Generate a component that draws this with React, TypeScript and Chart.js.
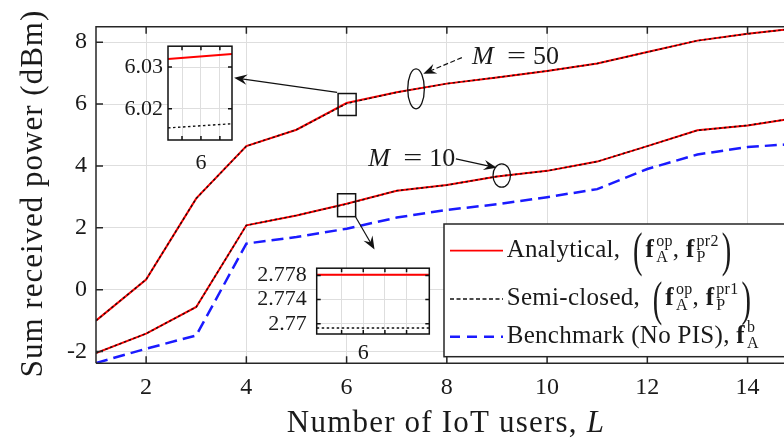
import { useEffect, useRef } from 'react';
import { Chart, registerables } from 'chart.js';

Chart.register(...registerables);

const FONT = '"Liberation Serif", "Times New Roman", Times, serif';

// ---------------- data ----------------
const USERS_L = [1, 2, 3, 4, 5, 6, 7, 8, 9, 10, 11, 12, 13, 14, 15];
const ANALYTICAL_M50 = [-1.0, 0.33, 2.95, 4.64, 5.17, 6.032, 6.38, 6.66, 6.86, 7.07, 7.31, 7.68, 8.05, 8.27, 8.45];
const SEMI_M50 = [-1.0, 0.33, 2.95, 4.64, 5.17, 6.015, 6.38, 6.66, 6.86, 7.07, 7.31, 7.68, 8.05, 8.27, 8.45];
const ANALYTICAL_M10 = [-2.05, -1.42, -0.56, 2.08, 2.4, 2.778, 3.2, 3.38, 3.66, 3.84, 4.14, 4.64, 5.15, 5.31, 5.56];
const SEMI_M10 = [-2.05, -1.42, -0.56, 2.08, 2.4, 2.769, 3.2, 3.38, 3.66, 3.84, 4.14, 4.64, 5.15, 5.31, 5.56];
const BENCHMARK = [-2.37, -1.91, -1.48, 1.49, 1.7, 1.97, 2.33, 2.58, 2.76, 2.99, 3.25, 3.9, 4.37, 4.61, 4.72];

const X_TICKS = [2, 4, 6, 8, 10, 12, 14];
const Y_TICKS = [-2, 0, 2, 4, 6, 8];
const X_RANGE = [1, 15];
const Y_RANGE = [-2.38, 8.5];

const INSET1_X = [5.9913, 6.0082];
const INSET1_ANALYTICAL = [6.0319, 6.0331];
const INSET1_SEMI = [6.0154, 6.0164];
const INSET1_X_TICKS = [5.995, 6, 6.005];
const INSET1_Y_TICKS = [6.02, 6.03];
const INSET1_X_RANGE = [5.9913, 6.0082];
const INSET1_Y_RANGE = [6.0125, 6.035];

const INSET2_X = [5.9785, 6.0305];
const INSET2_ANALYTICAL = [2.7781, 2.7781];
const INSET2_SEMI = [2.7693, 2.7693];
const INSET2_X_TICKS = [5.99, 6, 6.01, 6.02];
const INSET2_Y_TICKS = [2.77, 2.774, 2.778];
const INSET2_X_RANGE = [5.9785, 6.0305];
const INSET2_Y_RANGE = [2.7683, 2.7792];

const X_TITLE = 'Number of IoT users, ';
const X_TITLE_VAR = 'L';
const Y_TITLE = 'Sum received power (dBm)';
const LEGEND_LABELS = ['Analytical, ', 'Semi-closed, ', 'Benchmark (No PIS), '];

// annotations (data coordinates)
const ZOOM_BOXES = [
  { x: [5.83, 6.19], y: [5.63, 6.34] },
  { x: [5.82, 6.18], y: [2.36, 3.1] },
];
const ARROWS = [
  { from: [5.81, 6.38], to: [3.755, 6.85], dashed: false },
  { from: [6.18, 2.35], to: [6.557, 1.3], dashed: false },
  { from: [8.3, 7.5], to: [7.53, 6.98], dashed: true },
  { from: [8.18, 4.23], to: [8.995, 3.94], dashed: false },
];
const ELLIPSES = [
  { c: [7.385, 6.49], rx: 8.3, ry: 20 },
  { c: [9.095, 3.69], rx: 8.7, ry: 11.7 },
];
const M_LABELS = [
  { at: [8.5, 7.31], value: '50' },
  { at: [6.43, 4.01], value: '10' },
];

// ---------------- styles ----------------
const RED = '#ff0000';
const BLUE = '#1a1aff';
const BLACK = '#111111';
const AXIS = '#262626';
const GRID = '#dedede';

type Run =
  | { kind: 'text'; text: string; bold?: boolean; italic?: boolean }
  | { kind: 'script'; sup: string; sub: string }
  | { kind: 'paren'; text: string; pre: number; post: number };

function drawRich(ctx: CanvasRenderingContext2D, runs: Run[], x: number, base: number, size: number) {
  let cx = x;
  for (const r of runs) {
    if (r.kind === 'text') {
      ctx.font = `${r.bold ? 'bold ' : ''}${r.italic ? 'italic ' : ''}${size}px ${FONT}`;
      ctx.fillText(r.text, cx, base);
      cx += ctx.measureText(r.text).width;
    } else if (r.kind === 'script') {
      cx += 2;
      ctx.font = `16px ${FONT}`;
      ctx.fillText(r.sup, cx, base - 11);
      const w1 = ctx.measureText(r.sup).width;
      ctx.fillText(r.sub, cx, base + 5);
      const w2 = ctx.measureText(r.sub).width;
      cx += Math.max(w1, w2);
    } else {
      cx += r.pre;
      ctx.save();
      const ps = size * 1.9;
      ctx.font = `${ps}px ${FONT}`;
      const w = ctx.measureText(r.text).width;
      ctx.translate(cx, base + size * 0.385);
      ctx.scale(0.6, 1);
      ctx.fillText(r.text, 0, 0);
      ctx.restore();
      cx += w * 0.6 + r.post;
    }
  }
  return cx;
}

function setSpacing(ctx: CanvasRenderingContext2D, s: string) {
  (ctx as any).letterSpacing = s;
}

function drawArrow(ctx: CanvasRenderingContext2D, x0: number, y0: number, x1: number, y1: number, dashed: boolean) {
  const ang = Math.atan2(y1 - y0, x1 - x0);
  const ux = Math.cos(ang), uy = Math.sin(ang);
  const nx = -uy, ny = ux;
  const L = 13, W = 5.2;
  ctx.save();
  ctx.strokeStyle = BLACK;
  ctx.fillStyle = BLACK;
  ctx.lineWidth = 1.2;
  ctx.setLineDash(dashed ? [5, 2.5] : []);
  ctx.beginPath();
  ctx.moveTo(x0, y0);
  ctx.lineTo(x1 - ux * L * 0.6, y1 - uy * L * 0.6);
  ctx.stroke();
  ctx.setLineDash([]);
  ctx.beginPath();
  ctx.moveTo(x1, y1);
  ctx.lineTo(x1 - ux * L + nx * W, y1 - uy * L + ny * W);
  ctx.lineTo(x1 - ux * L * 0.65, y1 - uy * L * 0.65);
  ctx.lineTo(x1 - ux * L - nx * W, y1 - uy * L - ny * W);
  ctx.closePath();
  ctx.fill();
  ctx.restore();
}

const annotationPlugin = {
  id: 'annotations',
  afterDatasetsDraw(chart: any) {
    const { ctx, scales } = chart;
    const sx = (v: number) => scales.x.getPixelForValue(v);
    const sy = (v: number) => scales.y.getPixelForValue(v);
    ctx.save();
    // zoom boxes
    ctx.strokeStyle = BLACK;
    ctx.lineWidth = 1.5;
    for (const b of ZOOM_BOXES) {
      const x0 = sx(b.x[0]), x1 = sx(b.x[1]), y0 = sy(b.y[1]), y1 = sy(b.y[0]);
      ctx.strokeRect(x0, y0, x1 - x0, y1 - y0);
    }
    // ellipses
    ctx.lineWidth = 1.3;
    for (const e of ELLIPSES) {
      ctx.beginPath();
      ctx.ellipse(sx(e.c[0]), sy(e.c[1]), e.rx, e.ry, 0, 0, Math.PI * 2);
      ctx.stroke();
    }
    // arrows
    for (const a of ARROWS) {
      drawArrow(ctx, sx(a.from[0]), sy(a.from[1]), sx(a.to[0]), sy(a.to[1]), a.dashed);
    }
    // M labels
    ctx.fillStyle = '#1a1a1a';
    ctx.textBaseline = 'alphabetic';
    ctx.textAlign = 'left';
    for (const m of M_LABELS) {
      const x = sx(m.at[0]), y = sy(m.at[1]);
      ctx.font = `italic 26px ${FONT}`;
      ctx.fillText('M', x, y);
      ctx.font = `26px ${FONT}`;
      ctx.save();
      ctx.translate(x + 35, y);
      ctx.scale(1.3, 1);
      ctx.fillText('=', 0, 0);
      ctx.restore();
      ctx.fillText(m.value, x + 61, y);
    }
    ctx.restore();

    // legend
    const area = chart.chartArea;
    ctx.save();
    const lx = 444, ly = 224, lb = 356.7, lr = area.right + 40;
    ctx.fillStyle = '#ffffff';
    ctx.fillRect(lx, ly, lr - lx, lb - ly);
    ctx.strokeStyle = AXIS;
    ctx.lineWidth = 1.5;
    ctx.strokeRect(lx, ly, lr - lx, lb - ly);
    const rows = [
      { ly: 250.7, base: 256.7, color: RED, dash: [] as number[], width: 1.8,
        runs: [
          { kind: 'text', text: LEGEND_LABELS[0] },
          { kind: 'paren', text: '(', pre: 6, post: 3 },
          { kind: 'text', text: 'f', bold: true },
          { kind: 'script', sup: 'op', sub: 'A' },
          { kind: 'text', text: ', ' },
          { kind: 'text', text: 'f', bold: true },
          { kind: 'script', sup: 'pr2', sub: 'P' },
          { kind: 'paren', text: ')', pre: 3, post: 0 },
        ] as Run[] },
      { ly: 299, base: 305, color: BLACK, dash: [4, 2.5], width: 1.4,
        runs: [
          { kind: 'text', text: LEGEND_LABELS[1] },
          { kind: 'paren', text: '(', pre: 6, post: 3 },
          { kind: 'text', text: 'f', bold: true },
          { kind: 'script', sup: 'op', sub: 'A' },
          { kind: 'text', text: ', ' },
          { kind: 'text', text: 'f', bold: true },
          { kind: 'script', sup: 'pr1', sub: 'P' },
          { kind: 'paren', text: ')', pre: 3, post: 0 },
        ] as Run[] },
      { ly: 336.7, base: 343.3, color: BLUE, dash: [10, 7], width: 2.4,
        runs: [
          { kind: 'text', text: LEGEND_LABELS[2] },
          { kind: 'text', text: 'f', bold: true },
          { kind: 'script', sup: 'b', sub: 'A' },
        ] as Run[] },
    ];
    for (const r of rows) {
      ctx.strokeStyle = r.color;
      ctx.lineWidth = r.width;
      ctx.setLineDash(r.dash);
      ctx.beginPath();
      ctx.moveTo(450, r.ly);
      ctx.lineTo(503, r.ly);
      ctx.stroke();
      ctx.setLineDash([]);
      ctx.fillStyle = '#1a1a1a';
      ctx.textBaseline = 'alphabetic';
      ctx.textAlign = 'left';
      setSpacing(ctx, '0.3px');
      drawRich(ctx, r.runs, 506.7, r.base, 25);
      setSpacing(ctx, '0px');
    }
    ctx.restore();
  },
  afterDraw(chart: any) {
    const { ctx, chartArea: a, scales } = chart;
    ctx.save();
    ctx.strokeStyle = AXIS;
    ctx.lineWidth = 1.5;
    ctx.beginPath();
    ctx.moveTo(a.left, a.bottom);
    ctx.lineTo(a.left, a.top);
    ctx.lineTo(a.right, a.top);
    ctx.moveTo(a.left, a.bottom);
    ctx.lineTo(a.right, a.bottom);
    for (const v of X_TICKS) {
      const px = scales.x.getPixelForValue(v);
      ctx.moveTo(px, a.bottom);
      ctx.lineTo(px, a.bottom - 7);
      ctx.moveTo(px, a.top);
      ctx.lineTo(px, a.top + 7);
    }
    for (const v of Y_TICKS) {
      const py = scales.y.getPixelForValue(v);
      ctx.moveTo(a.left, py);
      ctx.lineTo(a.left + 7, py);
    }
    ctx.stroke();

    // titles
    ctx.fillStyle = '#1a1a1a';
    ctx.textBaseline = 'alphabetic';
    ctx.textAlign = 'left';
    setSpacing(ctx, '1.2px');
    ctx.font = `31px ${FONT}`;
    const w1 = ctx.measureText(X_TITLE).width;
    ctx.font = `italic 31px ${FONT}`;
    const w2 = ctx.measureText(X_TITLE_VAR).width;
    const xs = 446 - (w1 + w2) / 2;
    ctx.font = `31px ${FONT}`;
    ctx.fillText(X_TITLE, xs, 432);
    ctx.font = `italic 31px ${FONT}`;
    ctx.fillText(X_TITLE_VAR, xs + w1, 432);

    setSpacing(ctx, '1px');
    ctx.font = `31px ${FONT}`;
    ctx.save();
    ctx.translate(42, 193.5);
    ctx.rotate(-Math.PI / 2);
    ctx.textAlign = 'center';
    ctx.fillText(Y_TITLE, 0, 0);
    ctx.restore();
    setSpacing(ctx, '0px');
    ctx.restore();
  },
};

function pts(xs: number[], ys: number[]) {
  return xs.map((x, i) => ({ x, y: ys[i] }));
}

function makeMain(canvas: HTMLCanvasElement) {
  return new Chart(canvas, {
    type: 'line',
    data: {
      datasets: [
        { label: 'Semi-closed M=50', data: pts(USERS_L, SEMI_M50), borderColor: BLACK, borderWidth: 1.4, borderDash: [2.5, 2.5], pointRadius: 0, tension: 0 },
        { label: 'Semi-closed M=10', data: pts(USERS_L, SEMI_M10), borderColor: BLACK, borderWidth: 1.4, borderDash: [2.5, 2.5], pointRadius: 0, tension: 0 },
        { label: 'Analytical M=50', data: pts(USERS_L, ANALYTICAL_M50), borderColor: RED, borderWidth: 2, pointRadius: 0, tension: 0 },
        { label: 'Analytical M=10', data: pts(USERS_L, ANALYTICAL_M10), borderColor: RED, borderWidth: 2, pointRadius: 0, tension: 0 },
        { label: 'Benchmark', data: pts(USERS_L, BENCHMARK), borderColor: BLUE, borderWidth: 2.5, borderDash: [12, 6], pointRadius: 0, tension: 0 },
      ],
    },
    options: {
      animation: false,
      responsive: false,
      devicePixelRatio: 1,
      layout: { padding: { top: 26.7, right: 32.3, left: 0, bottom: 0 } },
      plugins: { legend: { display: false }, tooltip: { enabled: false } },
      scales: {
        x: {
          type: 'linear',
          min: X_RANGE[0],
          max: X_RANGE[1],
          afterBuildTicks: (s: any) => { s.ticks = X_TICKS.map((v) => ({ value: v })); },
          afterFit: (s: any) => { s.height = 80.7; },
          grid: { color: GRID, lineWidth: 1, drawTicks: false },
          border: { display: false },
          ticks: { autoSkip: false, maxRotation: 0, padding: 10, color: '#1a1a1a', font: { family: FONT, size: 24 }, callback: (v: any) => String(v) },
        },
        y: {
          type: 'linear',
          min: Y_RANGE[0],
          max: Y_RANGE[1],
          afterBuildTicks: (s: any) => { s.ticks = Y_TICKS.map((v) => ({ value: v })); },
          afterFit: (s: any) => { s.width = 96; },
          grid: { color: GRID, lineWidth: 1, drawTicks: false },
          border: { display: false },
          ticks: { autoSkip: false, padding: 9, color: '#1a1a1a', font: { family: FONT, size: 24 }, callback: (v: any) => String(v) },
        },
      },
    },
    plugins: [annotationPlugin],
  } as any);
}

type InsetCfg = {
  xs: number[]; red: number[]; black: number[];
  xTicks: number[]; yTicks: number[]; xRange: number[]; yRange: number[];
  padTop: number; padRight: number; yWidth: number; xHeight: number; yPad: number; xPad: number;
};

const insetPlugin = {
  id: 'insetFrame',
  beforeDraw(chart: any) {
    const { ctx, chartArea: a } = chart;
    ctx.save();
    ctx.fillStyle = '#ffffff';
    ctx.fillRect(a.left, a.top, a.right - a.left, a.bottom - a.top);
    ctx.restore();
  },
  afterDraw(chart: any) {
    const { ctx, chartArea: a, scales } = chart;
    const cfg = chart.options.plugins.insetFrame as any;
    ctx.save();
    ctx.strokeStyle = BLACK;
    ctx.lineWidth = 1.5;
    ctx.beginPath();
    for (const v of cfg.xTicks) {
      const px = scales.x.getPixelForValue(v);
      ctx.moveTo(px, a.bottom); ctx.lineTo(px, a.bottom - 4);
      ctx.moveTo(px, a.top); ctx.lineTo(px, a.top + 4);
    }
    for (const v of cfg.yTicks) {
      const py = scales.y.getPixelForValue(v);
      ctx.moveTo(a.left, py); ctx.lineTo(a.left + 4, py);
      ctx.moveTo(a.right, py); ctx.lineTo(a.right - 4, py);
    }
    ctx.stroke();
    ctx.strokeRect(a.left, a.top, a.right - a.left, a.bottom - a.top);
    ctx.restore();
  },
};

function makeInset(canvas: HTMLCanvasElement, c: InsetCfg) {
  return new Chart(canvas, {
    type: 'line',
    data: {
      datasets: [
        { data: pts(c.xs, c.black), borderColor: BLACK, borderWidth: 1.4, borderDash: [2.5, 2.5], pointRadius: 0 },
        { data: pts(c.xs, c.red), borderColor: RED, borderWidth: 2, pointRadius: 0 },
      ],
    },
    options: {
      animation: false,
      responsive: false,
      devicePixelRatio: 1,
      layout: { padding: { top: c.padTop, right: c.padRight, left: 0, bottom: 0 } },
      plugins: { legend: { display: false }, tooltip: { enabled: false }, insetFrame: { xTicks: c.xTicks, yTicks: c.yTicks } },
      scales: {
        x: {
          type: 'linear', min: c.xRange[0], max: c.xRange[1],
          afterBuildTicks: (s: any) => { s.ticks = c.xTicks.map((v) => ({ value: v })); },
          afterFit: (s: any) => { s.height = c.xHeight; },
          grid: { color: GRID, drawTicks: false },
          border: { display: false },
          ticks: { autoSkip: false, maxRotation: 0, padding: c.xPad, color: '#1a1a1a', font: { family: FONT, size: 22 }, callback: (v: any) => (v === 6 ? '6' : '') },
        },
        y: {
          type: 'linear', min: c.yRange[0], max: c.yRange[1],
          afterBuildTicks: (s: any) => { s.ticks = c.yTicks.map((v) => ({ value: v })); },
          afterFit: (s: any) => { s.width = c.yWidth; },
          grid: { color: GRID, drawTicks: false },
          border: { display: false },
          ticks: { autoSkip: false, padding: c.yPad, color: '#1a1a1a', font: { family: FONT, size: 22 }, callback: (v: any) => String(v) },
        },
      },
    },
    plugins: [insetPlugin],
  } as any);
}

const INSET1_CFG: InsetCfg = {
  xs: INSET1_X, red: INSET1_ANALYTICAL, black: INSET1_SEMI,
  xTicks: INSET1_X_TICKS, yTicks: INSET1_Y_TICKS, xRange: INSET1_X_RANGE, yRange: INSET1_Y_RANGE,
  padTop: 7, padRight: 8, yWidth: 68, xHeight: 38, yPad: 5, xPad: 10,
};
const INSET2_CFG: InsetCfg = {
  xs: INSET2_X, red: INSET2_ANALYTICAL, black: INSET2_SEMI,
  xTicks: INSET2_X_TICKS, yTicks: INSET2_Y_TICKS, xRange: INSET2_X_RANGE, yRange: INSET2_Y_RANGE,
  padTop: 7.7, padRight: 5.7, yWidth: 86.7, xHeight: 36, yPad: 10, xPad: 6,
};

export default function App() {
  const mainRef = useRef<HTMLCanvasElement>(null);
  const in1Ref = useRef<HTMLCanvasElement>(null);
  const in2Ref = useRef<HTMLCanvasElement>(null);
  useEffect(() => {
    const charts = [
      makeMain(mainRef.current!),
      makeInset(in1Ref.current!, INSET1_CFG),
      makeInset(in2Ref.current!, INSET2_CFG),
    ];
    return () => charts.forEach((ch) => ch.destroy());
  }, []);
  return (
    <div style={{ position: 'fixed', left: 0, top: 0, width: 784, height: 444, overflow: 'hidden', background: '#ffffff' }}>
      <canvas ref={mainRef} width={830} height={444} style={{ position: 'absolute', left: 0, top: 0, width: 830, height: 444 }} />
      <canvas ref={in1Ref} width={140} height={150} style={{ position: 'absolute', left: 100, top: 28, width: 140, height: 150 }} />
      <canvas ref={in2Ref} width={205} height={125} style={{ position: 'absolute', left: 230, top: 245, width: 205, height: 125 }} />
    </div>
  );
}
